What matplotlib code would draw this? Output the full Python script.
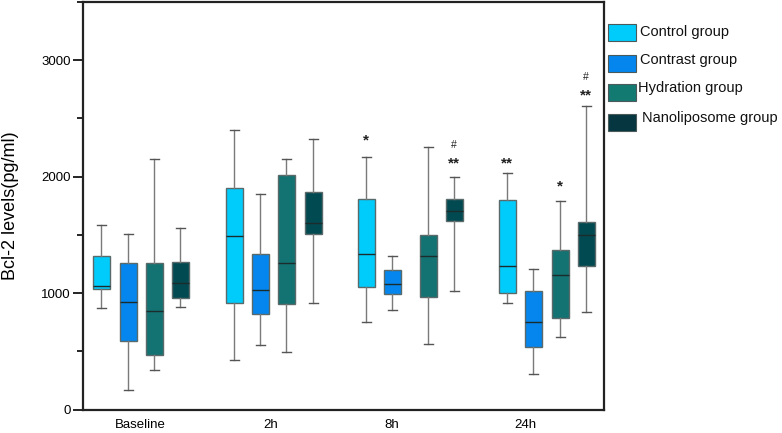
import matplotlib
matplotlib.use("Agg")
import matplotlib.pyplot as plt
from matplotlib.patches import Rectangle
from matplotlib.ticker import MultipleLocator

plt.rcParams['font.family'] = ['Liberation Sans', 'DejaVu Sans']

timepoints = ["Baseline", "2h", "8h", "24h"]
groups = ["Control group", "Contrast group", "Hydration group", "Nanoliposome group"]
colors = ["#00CCFC", "#0486EE", "#137272", "#024A52"]
legend_colors = ["#00CCFC", "#0486EE", "#137A72", "#06363F"]

# per group: lists over timepoints of (whislo, q1, med, q3, whishi)
control = [(871, 1034, 1063, 1318, 1584), (424, 919, 1489, 1907, 2403),
           (753, 1057, 1335, 1812, 2173), (917, 1000, 1234, 1801, 2033)]
contrast = [(169, 590, 922, 1263, 1512), (556, 822, 1028, 1335, 1853),
            (854, 994, 1080, 1197, 1323), (309, 539, 751, 1022, 1209)]
hydration = [(341, 472, 848, 1257, 2148), (496, 905, 1257, 2019, 2148),
             (567, 965, 1320, 1501, 2254), (627, 788, 1154, 1372, 1790)]
nano = [(885, 962, 1086, 1266, 1561), (919, 1509, 1601, 1867, 2323),
        (1017, 1624, 1709, 1807, 1999), (842, 1232, 1498, 1610, 2606)]
series = [control, contrast, hydration, nano]

# significance marks: (group index, timepoint index, text, value position)
marks = [(0, 2, "*", 2310), (3, 2, "**", 2110), (3, 2, "#", 2270),
         (0, 3, "**", 2110), (2, 3, "*", 1920), (3, 3, "**", 2700), (3, 3, "#", 2860)]

# layout
positions = [[101, 128, 154, 180], [234, 260, 286, 313],
             [366, 392, 428, 454], [507, 533, 560, 586]]
label_pos = [140, 271, 392, 525]

W, H = 782, 433
fig = plt.figure(figsize=(W / 100, H / 100), dpi=100)
ax = fig.add_axes([83 / W, 1 - 409.7 / H, (604 - 83) / W, (409.7 - 2) / H])

for gi, (ser, col) in enumerate(zip(series, colors)):
    stats = []
    pos = []
    for ti, v in enumerate(ser):
        stats.append(dict(whislo=v[0], q1=v[1], med=v[2], q3=v[3], whishi=v[4], fliers=[]))
        pos.append(positions[ti][gi])
    ax.bxp(stats, positions=pos, widths=17, patch_artist=True, showfliers=False,
           boxprops=dict(facecolor=col, edgecolor="#5a6a6a", linewidth=1.0),
           whiskerprops=dict(color="#7a7a7a", linewidth=1.0),
           capprops=dict(color="#555555", linewidth=1.0),
           medianprops=dict(color="#1c2c2c", linewidth=1.0),
           capwidths=9, manage_ticks=False)

for gi, ti, txt, yv in marks:
    fs = 7.5 if txt == "#" else 11
    ax.text(positions[ti][gi], yv, txt, ha="center", va="center", fontsize=fs,
            fontweight="bold" if txt != "#" else "normal", color="#222222")

ax.set_xlim(83, 604)
ax.set_ylim(0, 3500)
ax.yaxis.set_major_locator(MultipleLocator(1000))
ax.yaxis.set_minor_locator(MultipleLocator(500))
ax.set_xticks(label_pos)
ax.set_xticklabels(timepoints, fontsize=9.5)
ax.tick_params(axis="x", length=0, pad=7)
ax.tick_params(axis="y", which="major", length=7, width=1.2, labelsize=9.5, pad=2)
ax.tick_params(axis="y", which="minor", length=4, width=1.2)
for s in ax.spines.values():
    s.set_linewidth(1.6)
    s.set_color("#222222")
ax.set_ylabel("Bcl-2 levels(pg/ml)", fontsize=13)
ax.yaxis.set_label_coords(-(83 - 19) / (604 - 83), 0.5)

# legend (outside the axes, right)
patch_tops = [24, 55, 84, 114]
text_y = [32, 60, 88, 118]
text_x = [640, 640, 638, 642]
for i, (lab, c) in enumerate(zip(groups, legend_colors)):
    fig.add_artist(Rectangle((608 / W, 1 - (patch_tops[i] + 17) / H), 28 / W, 17 / H,
                             transform=fig.transFigure, facecolor=c,
                             edgecolor="#4a5a5a", linewidth=0.8))
    fig.text(text_x[i] / W, 1 - text_y[i] / H, lab, ha="left", va="center",
             fontsize=10.5, color="#111111")

fig.savefig("out.png", dpi=100)
